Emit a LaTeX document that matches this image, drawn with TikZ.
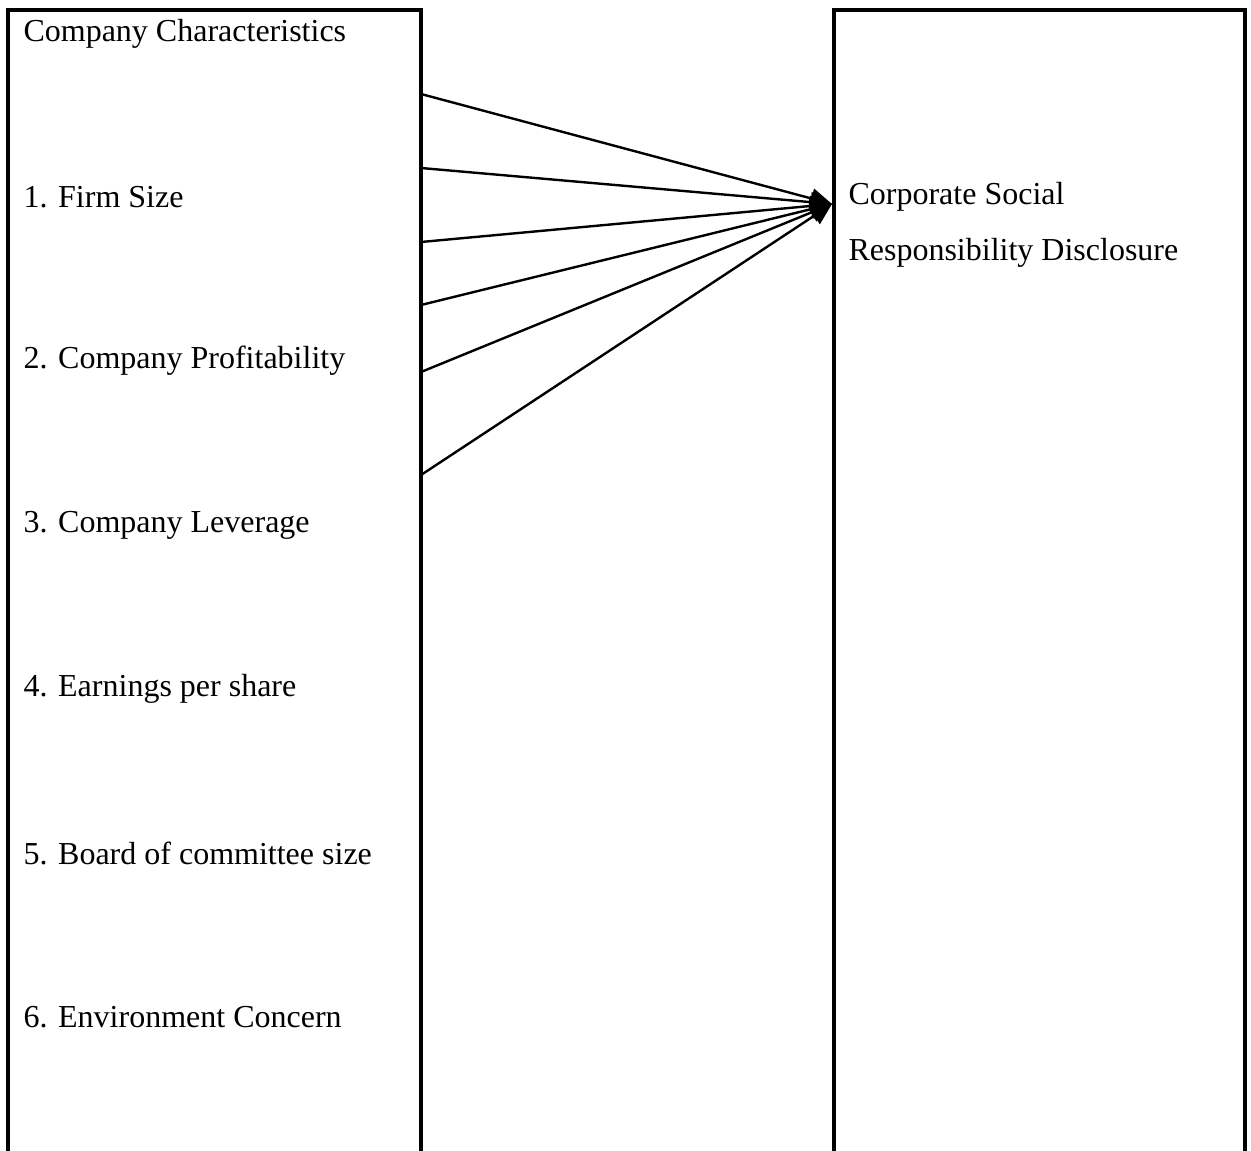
\documentclass[tikz,border=0pt]{standalone}
\usepackage{fontspec}
\setmainfont{Liberation Serif}
\usepackage{tikz}
\usetikzlibrary{arrows.meta}
\usetikzlibrary{positioning}

\tikzset{
  caixa/.style={line width=1.2pt},
  seta/.style={line width=0.9pt,-{Triangle[length=8pt,width=7.5pt]}},
  texto/.style={anchor=west,inner sep=0pt,font=\fontsize{12}{14}\selectfont}
}

\begin{document}
\begin{tikzpicture}[x=0.375pt,y=-0.375pt]

\useasboundingbox (0,0) rectangle (1251,1151);

% Caixa da esquerda (caracteristicas)
\draw[caixa] (8,1151) -- (8,10) -- (421,10) -- (421,1151);

% Caixa da direita (CSR)
\draw[caixa] (834,1151) -- (834,10) -- (1245,10) -- (1245,1151);

% Textos da esquerda
\node[texto] (titulo) at (23,34) {Company Characteristics};
\node[texto] (tam) at (23,197) {1. Firm Size};
\node[texto] (lucro) at (23,361) {2. Company Profitability};
\node[texto] (alav) at (23,525) {3. Company Leverage};
\node[texto] (lpa) at (23,689) {4. Earnings per share};
\node[texto] (cons) at (23,853) {5. Board of committee size};
\node[texto] (amb) at (23,1017) {6. Environment Concern};

% Textos da direita
\node[texto] (csr1) at (848,197) {Corporate Social};
\node[texto] (csr2) at (848,253) {Responsibility Disclosure};

% Pontos de saida e ponta das setas
\coordinate (ponta) at (832,204);
\coordinate (s1) at (421,94);
\coordinate (s2) at (421,168);
\coordinate (s3) at (421,242);
\coordinate (s4) at (421,305);
\coordinate (s5) at (421,372);
\coordinate (s6) at (421,475);

% Setas
\foreach \s in {s1,s2,s3,s4,s5,s6}
  \draw[seta] (\s) -- (ponta);

\end{tikzpicture}
\end{document}
